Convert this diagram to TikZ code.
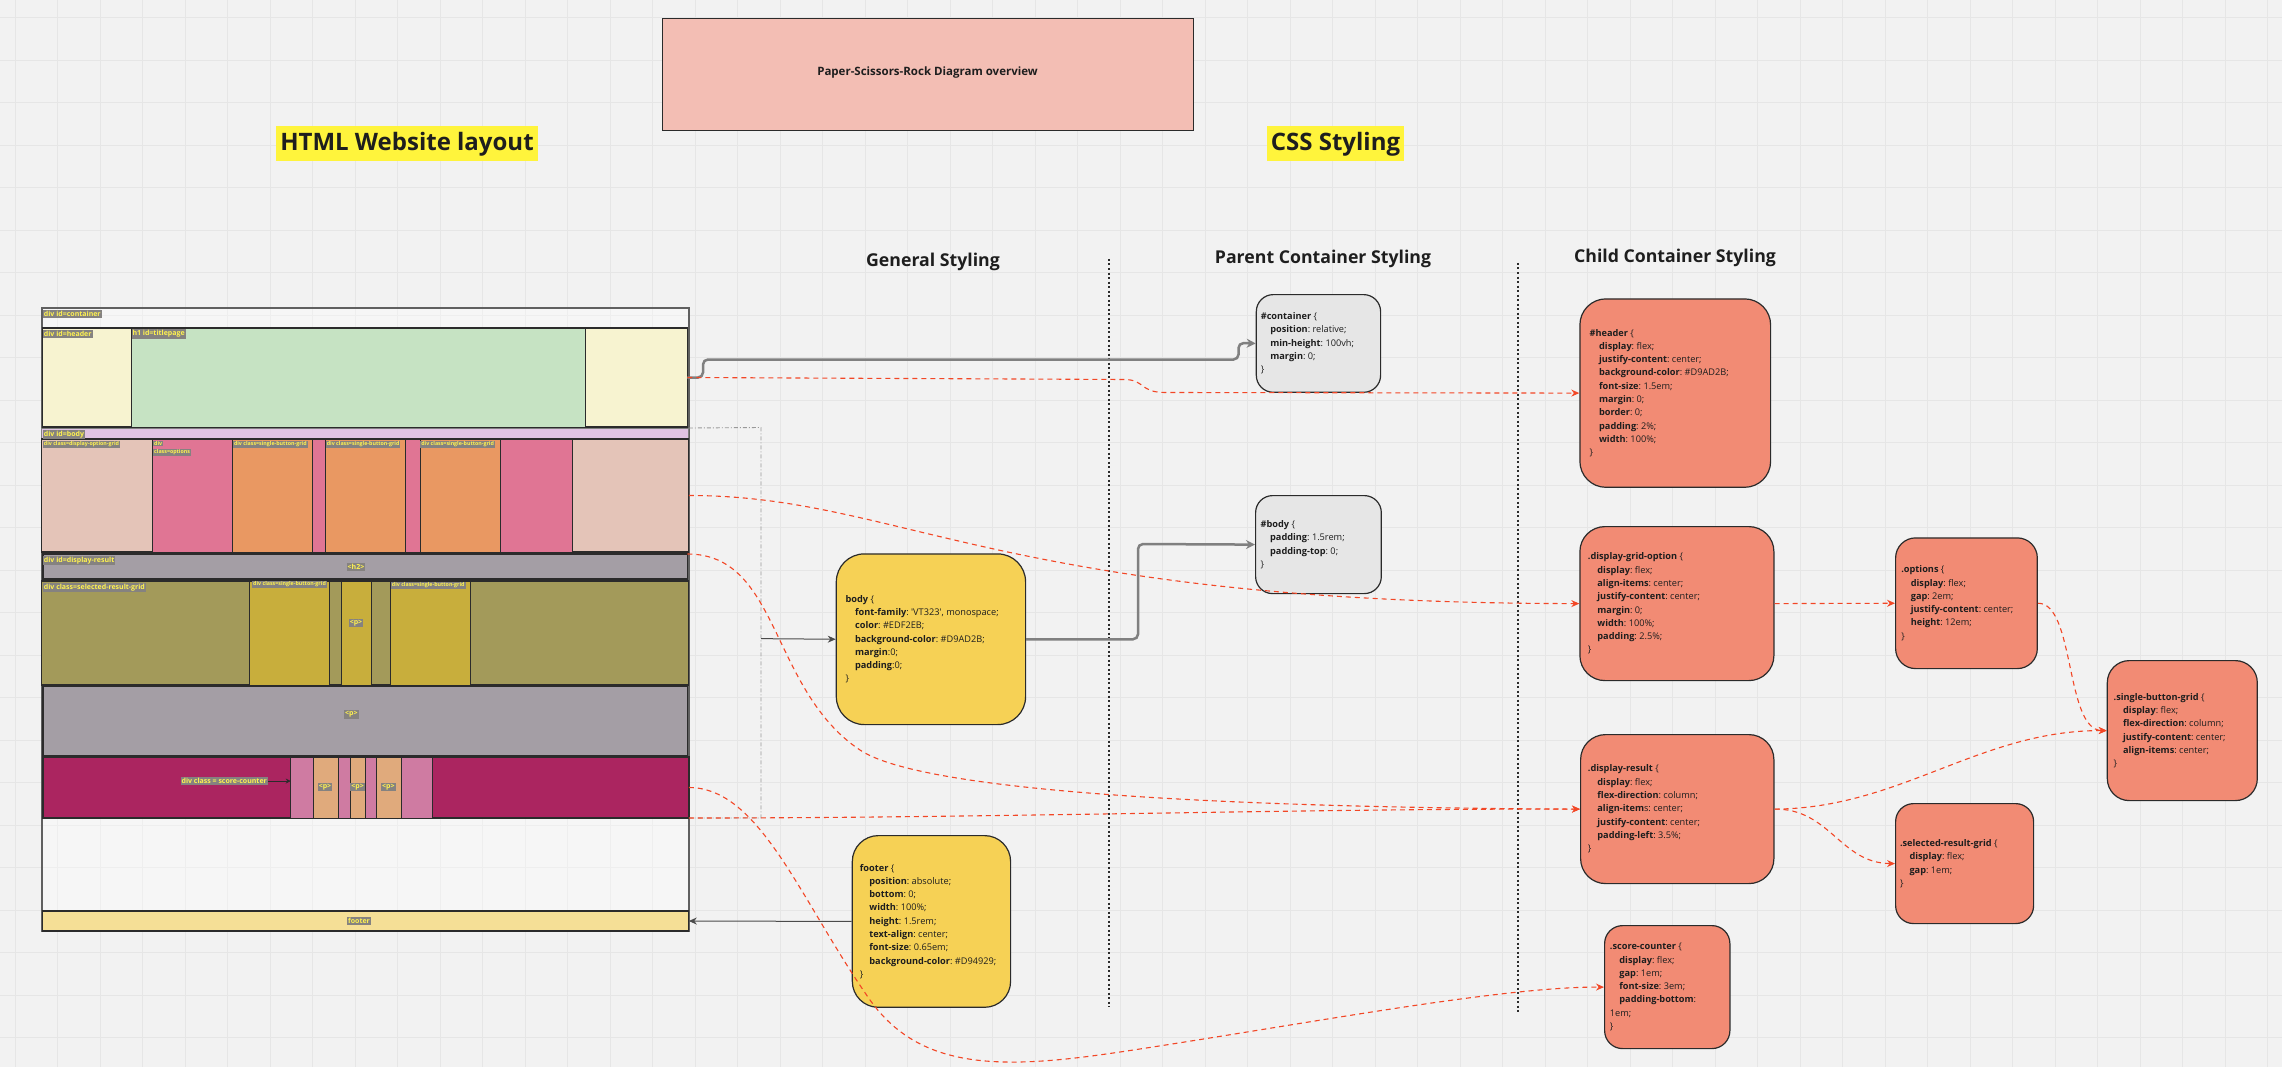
\documentclass[tikz,border=0pt]{standalone}
\usepackage{fontspec}
\setmainfont{Open Sans}
\usetikzlibrary{arrows.meta,calc}
\definecolor{bgc}{HTML}{F2F2F2}
\definecolor{gridc}{HTML}{E6E6E6}
\definecolor{titlec}{HTML}{F3BEB4}
\definecolor{hilite}{HTML}{FFF43C}
\definecolor{hdrY}{HTML}{F7F3D0}
\definecolor{hdrG}{HTML}{C6E3C3}
\definecolor{bodybarc}{HTML}{E0C3E3}
\definecolor{bodyL}{HTML}{E4C4B8}
\definecolor{bodyP}{HTML}{E07594}
\definecolor{bodyO}{HTML}{E99862}
\definecolor{grayrow}{HTML}{A49EA5}
\definecolor{olive}{HTML}{A39A5A}
\definecolor{oliveY}{HTML}{C8AE3C}
\definecolor{crimson}{HTML}{AB2560}
\definecolor{scP}{HTML}{CF7BA2}
\definecolor{scT}{HTML}{E0AA7C}
\definecolor{footc}{HTML}{F5DF96}
\definecolor{cssY}{HTML}{F6D155}
\definecolor{cssG}{HTML}{E6E6E6}
\definecolor{cssR}{HTML}{F28B74}
\definecolor{redc}{HTML}{F24726}
\definecolor{conn}{HTML}{808080}
\definecolor{lblbg}{HTML}{858280}
\definecolor{lblfg}{HTML}{FFF250}
\definecolor{ink}{HTML}{1E1E1E}
\definecolor{edge}{HTML}{2B2B2B}
\newcommand\cssfix{\spaceskip=0pt\xspaceskip=0pt\frenchspacing}
\newcommand\pr[2]{\hspace*{9.5pt}\textbf{#1}: #2\\}
\newcommand\rbx[6]{\node[rowbox,#2,minimum width={(#5-#3)*1pt},minimum height={(#6-#4)*1pt}] (#1) at ({(#3+#5)/2},{(#4+#6)/2}) {};}
\begin{document}
\begin{tikzpicture}[x=1pt,y=-1pt,
  rowbox/.style={draw=edge,line width=1.2pt,inner sep=0pt,outer sep=0pt},
  lbl/.style={fill=lblbg,text=lblfg,font=\fontsize{7}{8}\selectfont\bfseries,inner xsep=1pt,inner ysep=1.2pt,anchor=north west},
  slbl/.style={lbl,font=\fontsize{5.3}{6}\selectfont\bfseries,inner ysep=0.7pt},
  clbl/.style={lbl,anchor=center},
  css/.style={draw=edge,line width=1.2pt,align=left,anchor=north west,inner ysep=0pt,font=\fontsize{9.2}{13.3}\selectfont,text=ink},
  redarrow/.style={draw=redc,line width=1.1pt,dash pattern=on 5pt off 4pt,-{Stealth[length=8pt,width=7pt]}},
  grayarrow/.style={draw=conn,line width=2.5pt,rounded corners=5pt,-{Stealth[length=9pt,width=9pt]}},
  thinarrow/.style={draw=edge!85,line width=1pt,-{Stealth[length=8pt,width=7pt]}},
  bracket/.style={draw=conn!80,line width=0.9pt,dash pattern=on 4pt off 2pt on 1pt off 2pt},
  heading/.style={font=\fontsize{24}{29}\selectfont\bfseries,fill=hilite,inner xsep=4pt,inner ysep=5.5pt,text=ink},
  subhead/.style={font=\fontsize{17.7}{20}\selectfont\bfseries,text=ink},
  vsep/.style={draw=edge,line width=1.6pt,dash pattern=on 2pt off 2.5pt},
  gridline/.style={draw=gridc,line width=0.8pt}]
\useasboundingbox (0,0) rectangle (2282,1067);
\fill[bgc] (0,0) rectangle (2282,1067);
\foreach \i in {0,...,53} {\draw[gridline] ({14.9+42.5*\i},0) -- ({14.9+42.5*\i},1067);}
\foreach \j in {0,...,25} {\draw[gridline] (0,{17.7+42.5*\j}) -- (2282,{17.7+42.5*\j});}

% title and headings
\node[draw=edge,line width=1pt,fill=titlec,minimum width=531pt,minimum height=112pt,inner sep=0pt,font=\fontsize{11.5}{14}\selectfont\bfseries,text=ink] (title) at (927.5,75) {\raisebox{8pt}{Paper-Scissors-Rock Diagram overview}};
\node[heading] (htmlh) at (407,144) {HTML Website layout};
\node[heading] (cssh) at (1335.5,144) {CSS Styling};
\node[subhead] (gen) at (933,262) {General Styling};
\node[subhead] (par) at (1323,259) {Parent Container Styling};
\node[subhead] (chi) at (1675,258) {Child Container Styling};
\draw[vsep] (1109,259) -- (1109,1007);
\draw[vsep] (1518,263) -- (1518,1014);

% ---------- HTML layout ----------
\rbx{cont}{draw=edge!75,line width=1.6pt,fill=white,fill opacity=0.35}{41.8}{308}{688.8}{931}
\rbx{hdr}{fill=hdrY,line width=1.5pt}{42.7}{328}{687.4}{427}
\rbx{titlepage}{fill=hdrG,line width=0.8pt}{131.3}{328}{585.4}{427}
\rbx{bodybar}{fill=bodybarc,draw=edge!60,line width=0.8pt}{41.8}{428}{688.8}{439}
\rbx{bodyrow}{fill=bodyL}{41.8}{439}{688.8}{552}
\rbx{opts}{fill=bodyP,line width=0.8pt}{152}{439}{572.6}{552}
\rbx{btnA}{fill=bodyO,line width=0.8pt}{231.9}{439}{312.2}{552}
\rbx{btnB}{fill=bodyO,line width=0.8pt}{325.6}{439}{405.5}{552}
\rbx{btnC}{fill=bodyO,line width=0.8pt}{420.1}{439}{500}{552}
\rbx{disp}{fill=grayrow,line width=1.6pt}{42.7}{554}{687.4}{579}
\rbx{srg}{fill=olive}{41.8}{581}{688.8}{685}
\rbx{srgA}{fill=oliveY,line width=0.8pt}{249.3}{581}{329.2}{685}
\rbx{srgP}{fill=oliveY,line width=0.8pt}{341.6}{581}{371}{685}
\rbx{srgB}{fill=oliveY,line width=0.8pt}{390.3}{581}{470.2}{685}
\rbx{prow}{fill=grayrow,line width=1.6pt}{42.7}{686}{687.4}{756}
\rbx{score}{fill=crimson,line width=1.6pt}{42.7}{757}{688.8}{818}
\rbx{scpink}{fill=scP,line width=0.8pt}{290.7}{757}{432.5}{818}
\rbx{scA}{fill=scT,line width=0.8pt}{313.6}{757}{338}{818}
\rbx{scB}{fill=scT,line width=0.8pt}{349.9}{757}{365}{818}
\rbx{scC}{fill=scT,line width=0.8pt}{376.5}{757}{401.3}{818}
\rbx{footer}{fill=footc,line width=1.2pt}{42.7}{911}{688.8}{931}

% layout labels
\node[lbl] (l1) at (42.7,310) {div id=container};
\node[lbl] (l2) at (42.7,330) {div id=header};
\node[lbl] (l3) at (131.3,329) {h1 id=titlepage};
\node[lbl] (l4) at (42.7,429.3) {div id=body};
\node[slbl] (l5) at (42.7,440.7) {div class=display-option-grid};
\node[slbl] (l6) at (153,440.7) {div};
\node[slbl] (l7) at (153,449) {class=options};
\node[slbl] (l8) at (232.8,440.7) {div class=single-button-grid};
\node[slbl] (l9) at (325.6,440.7) {div class=single-button-grid};
\node[slbl] (l10) at (420.1,440.7) {div class=single-button-grid};
\node[lbl] (l11) at (42.7,555.7) {div id=display-result};
\node[clbl] (l12) at (356,567) {<h2>};
\node[lbl] (l13) at (42.7,582.3) {div class=selected-result-grid};
\node[slbl] (l14) at (252,580.7) {div class=single-button-grid};
\node[slbl] (l15) at (390.7,582) {div class=single-button-grid};
\node[clbl] (l16) at (356,623) {<p>};
\node[clbl] (l17) at (351.3,714.5) {<p>};
\node[lbl] (sclbl) at (180.4,777) {div class = score-counter};
\draw[edge,line width=1pt,-{Stealth[length=5pt,width=5pt]}] (sclbl.east) -- (scpink.west |- sclbl.east);
\node[clbl] (l18) at (325,787) {<p>};
\node[clbl] (l19) at (357.7,787) {<p>};
\node[clbl] (l20) at (388.4,787) {<p>};
\node[clbl] (l21) at (359,921) {footer};

% ---------- CSS boxes ----------
\node[css,fill=cssG,rounded corners=17pt,minimum width=124.3pt,minimum height=97.7pt,text width=115.3pt,inner xsep=4.5pt] (containercss) at (1255.7,294) {\cssfix
\textbf{\#container} \{\\
\pr{position}{relative;}
\pr{min-height}{100vh;}
\pr{margin}{0;}
\}};
\node[css,fill=cssG,rounded corners=17pt,minimum width=125.7pt,minimum height=98pt,text width=115.7pt,inner xsep=5pt] (bodyidcss) at (1255,495) {\cssfix
\textbf{\#body} \{\\
\pr{padding}{1.5rem;}
\pr{padding-top}{0;}
\}};
\node[css,fill=cssY,rounded corners=28pt,minimum width=189.3pt,minimum height=170.7pt,text width=170.7pt,inner xsep=9.3pt] (bodycss) at (835.7,553.3) {\cssfix
\textbf{body} \{\\
\pr{font-family}{\textquotesingle VT323\textquotesingle, monospace;}
\pr{color}{\#EDF2EB;}
\pr{background-color}{\#D9AD2B;}
\hspace*{9.5pt}\textbf{margin}:0;\\
\hspace*{9.5pt}\textbf{padding}:0;\\
\}};
\node[css,fill=cssY,rounded corners=26pt,minimum width=158.3pt,minimum height=171.7pt,text width=143.1pt,inner xsep=7.6pt] (footercss) at (851.7,835) {\cssfix
\textbf{footer} \{\\
\pr{position}{absolute;}
\pr{bottom}{0;}
\pr{width}{100\%;}
\pr{height}{1.5rem;}
\pr{text-align}{center;}
\pr{font-size}{0.65em;}
\pr{background-color}{\#D94929;}
\}};
\node[css,fill=cssR,rounded corners=26pt,minimum width=190.7pt,minimum height=188.4pt,text width=171.3pt,inner xsep=9.7pt] (headercss) at (1579.3,298.3) {\cssfix
\textbf{\#header} \{\\
\pr{display}{flex;}
\pr{justify-content}{center;}
\pr{background-color}{\#D9AD2B;}
\pr{font-size}{1.5em;}
\pr{margin}{0;}
\pr{border}{0;}
\pr{padding}{2\%;}
\pr{width}{100\%;}
\}};
\node[css,fill=cssR,rounded corners=25pt,minimum width=194pt,minimum height=154pt,text width=178pt,inner xsep=8pt] (gridcss) at (1579.3,526) {\cssfix
\textbf{.display-grid-option} \{\\
\pr{display}{flex;}
\pr{align-items}{center;}
\pr{justify-content}{center;}
\pr{margin}{0;}
\pr{width}{100\%;}
\pr{padding}{2.5\%;}
\}};
\node[css,fill=cssR,rounded corners=25pt,minimum width=193.3pt,minimum height=149pt,text width=178.7pt,inner xsep=7.3pt] (drcss) at (1580,734) {\cssfix
\textbf{.display-result} \{\\
\pr{display}{flex;}
\pr{flex-direction}{column;}
\hspace*{9.5pt}\textbf{align-item}s: center;\\
\pr{justify-content}{center;}
\pr{padding-left}{3.5\%;}
\}};
\node[css,fill=cssR,rounded corners=20pt,minimum width=141.7pt,minimum height=130.7pt,text width=130.3pt,inner xsep=5.7pt] (optcss) at (1895,537.3) {\cssfix
\textbf{.options} \{\\
\pr{display}{flex;}
\pr{gap}{2em;}
\pr{justify-content}{center;}
\pr{height}{12em;}
\}};
\node[css,fill=cssR,rounded corners=22pt,minimum width=150pt,minimum height=140pt,text width=137.4pt,inner xsep=6.3pt] (sbgcss) at (2106.7,660) {\cssfix
\textbf{.single-button-grid} \{\\
\pr{display}{flex;}
\pr{flex-direction}{column;}
\pr{justify-content}{center;}
\pr{align-items}{center;}
\}};
\node[css,fill=cssR,rounded corners=18pt,minimum width=138pt,minimum height=120pt,text width=129.2pt,inner xsep=4.4pt] (srgcss) at (1895,803) {\cssfix
\textbf{.selected-result-grid} \{\\
\pr{display}{flex;}
\pr{gap}{1em;}
\}};
\node[css,fill=cssR,rounded corners=18pt,minimum width=125.3pt,minimum height=123pt,text width=114.7pt,inner xsep=5.3pt] (sccss) at (1604,925) {\cssfix
\textbf{.score-counter} \{\\
\pr{display}{flex;}
\pr{gap}{1em;}
\pr{font-size}{3em;}
\hspace*{9.5pt}\textbf{padding-bottom}:\\
1em;\\
\}};

% ---------- connectors ----------
\draw[grayarrow] (hdr.east) -- (703,377.5) -- (703,359.5) -- (1238.5,359.5) -- (1238.5,343) -- (containercss.west);
\draw[grayarrow] (bodycss.east) -| (1138,544) -- (bodyidcss.west);
\draw[bracket] (bodybar.north east) -- (761,427.5) -- (761,818) -- (score.south east);
\coordinate (brk) at (761,638.65);
\draw[thinarrow] (brk) -- (bodycss.west);
\draw[thinarrow] (footercss.west) -- (footer.east);

\draw[redarrow] (hdr.east) -- (1125,379.5) .. controls (1145,380) and (1140,392.5) .. (1165,392.5) -- (headercss.west);
\draw[redarrow] (bodyrow.east) .. controls (900,495.5) and (1000,603) .. (gridcss.west);
\draw[redarrow] (disp.north east) .. controls (780,554) and (770,690) .. (860,750) .. controls (930,797) and (1300,808) .. (drcss.west);
\draw[redarrow] (score.east) .. controls (760,787.5) and (800,900) .. (870,1000) .. controls (920,1070) and (1000,1070) .. (1120,1052) .. controls (1300,1025) and (1500,986.5) .. (sccss.west);
\draw[redarrow] (score.south east) .. controls (1000,818) and (1300,808.5) .. (drcss.west);
\draw[redarrow] (gridcss.east) -- (optcss.west);
\draw[redarrow] (optcss.east) .. controls (2075,602.65) and (2065,730) .. (sbgcss.west);
\draw[redarrow] (drcss.east) .. controls (1900,808.5) and (1980,730) .. (sbgcss.west);
\draw[redarrow] (drcss.east) .. controls (1830,808.5) and (1840,863) .. (srgcss.west);
\end{tikzpicture}
\end{document}
